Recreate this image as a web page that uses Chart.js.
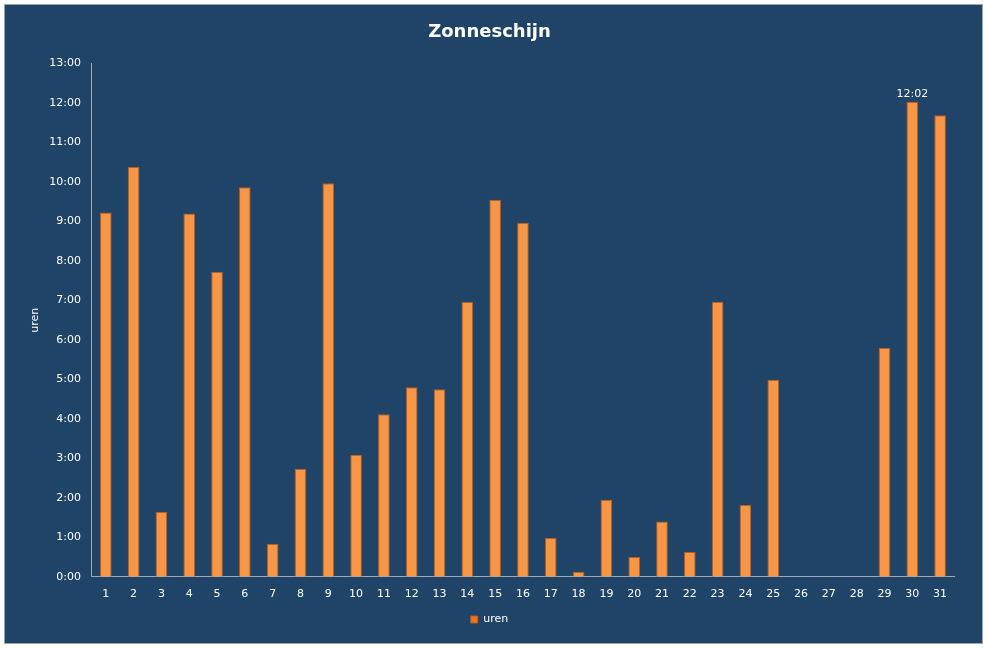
<!DOCTYPE html>
<html><head><meta charset="utf-8">
<script src="https://cdn.jsdelivr.net/npm/chart.js@4/dist/chart.umd.min.js"></script>
<style>
html,body{margin:0;padding:0;background:#fff;}
#wrap{position:absolute;left:4px;top:4px;width:977px;height:638px;background:#1F4467;border:1px solid #9aa;}
</style></head><body>
<div id="wrap"><canvas id="c"></canvas></div>
<script>
const days = Array.from({length:31},(_,i)=>String(i+1));
const uren = [9.23,10.38,1.64,9.2,7.73,9.87,0.84,2.74,9.97,3.09,4.12,4.8,4.75,6.97,9.55,8.97,0.98,0.13,1.95,0.5,1.4,0.63,6.97,1.82,4.99,0,0,0,5.8,12.033,11.69];
const labelIndex = 29, labelText = '12:02';
function fmt(v){const h=Math.floor(v+1e-9);const m=Math.round((v-h)*60);return h+':'+String(m).padStart(2,'0');}
const lbl={id:'lbl',afterDatasetsDraw(ch){const m=ch.getDatasetMeta(0).data[labelIndex];const c=ch.ctx;c.save();c.fillStyle='#fff';c.font='11px "DejaVu Sans"';c.textAlign='center';c.fillText(labelText,m.x,m.y-8);c.restore();}};
const ctx=document.getElementById('c');
new Chart(ctx,{type:'bar',data:{labels:days,datasets:[{label:'uren',data:uren,
 backgroundColor:(c)=>{const el=c.chart.getDatasetMeta(0).data[c.dataIndex];if(!el||!Number.isFinite(el.x))return '#F79646';const gr=c.chart.ctx.createLinearGradient(el.x-6,0,el.x+6,0);gr.addColorStop(0,'#E8772A');gr.addColorStop(0.5,'#FDB26E');gr.addColorStop(1,'#E8772A');return gr;},
 borderColor:'#C05A14',borderWidth:1,barPercentage:0.42,categoryPercentage:1}]},
options:{responsive:true,maintainAspectRatio:false,animation:false,
 layout:{padding:{left:20,right:28,top:5,bottom:8}},
 plugins:{title:{display:true,text:'Zonneschijn',color:'#fff',font:{family:'"DejaVu Sans"',size:18,weight:'bold'},padding:{top:12,bottom:20}},
  legend:{position:'bottom',labels:{color:'#fff',boxWidth:7,boxHeight:7,font:{family:'"DejaVu Sans"',size:11}}},tooltip:{enabled:false}},
 scales:{x:{grid:{display:false},border:{color:'#9ab'},ticks:{color:'#fff',font:{family:'"DejaVu Sans"',size:11}}},
  y:{min:0,max:13,ticks:{stepSize:1,color:'#fff',callback:v=>fmt(v),font:{family:'"DejaVu Sans"',size:11}},grid:{display:false},border:{color:'#9ab'},
   title:{display:true,text:'uren',color:'#fff',font:{family:'"DejaVu Sans"',size:11}}}}},
plugins:[lbl]});
</script></body></html>
